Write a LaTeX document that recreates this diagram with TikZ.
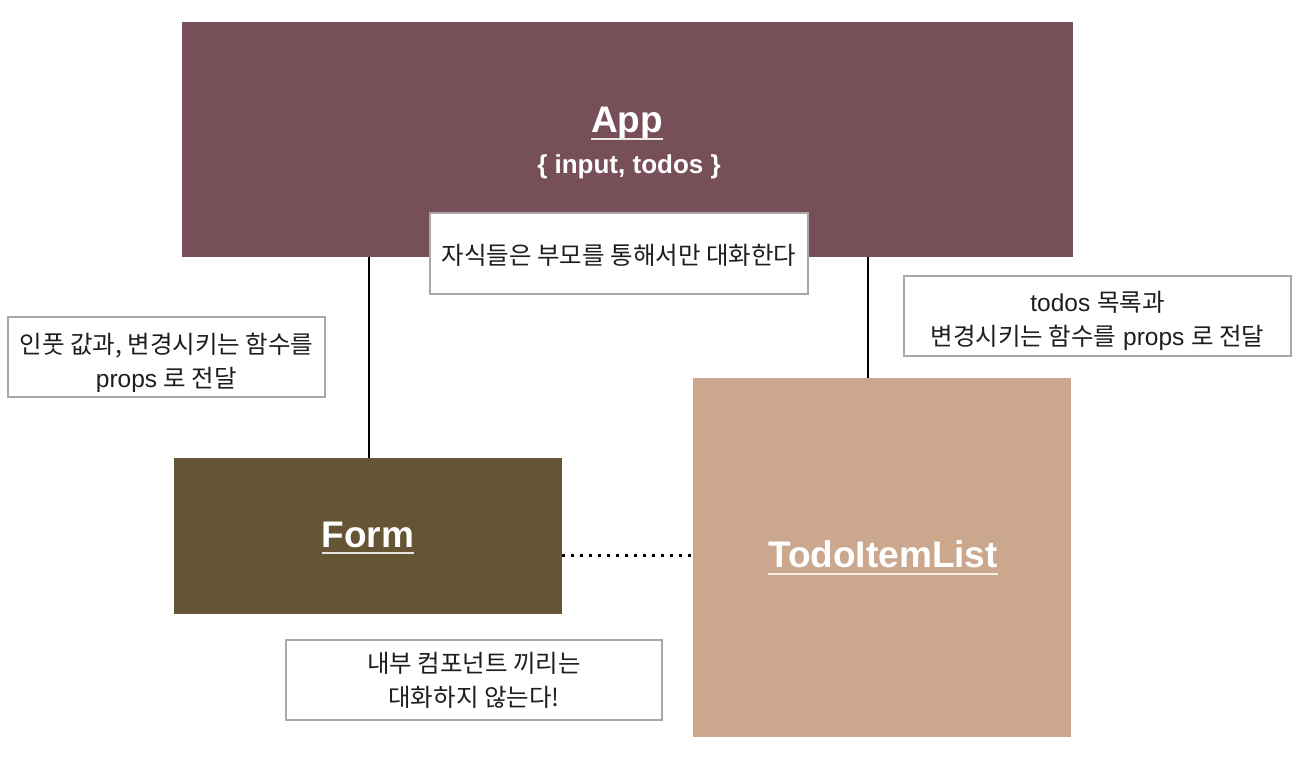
\documentclass[tikz,border=0pt]{standalone}
\usepackage{fontspec}
\setmainfont{Liberation Sans}
\newfontfamily\kr{Noto Sans CJK KR}
\definecolor{appc}{HTML}{774F59}
\definecolor{formc}{HTML}{665535}
\definecolor{todoc}{HTML}{CBA88D}
\definecolor{notec}{HTML}{A8A8A8}
\definecolor{txtc}{HTML}{1E1E1E}
\tikzset{
  comp/.style={draw=none, inner sep=0pt},
  title/.style={text=white, font=\fontsize{37}{42}\selectfont\bfseries, inner sep=0pt, anchor=base},
  notebox/.style={draw=notec, line width=1.5pt, fill=white, inner sep=0pt},
  notetext/.style={inner sep=0pt, align=center, text=txtc, font=\fontsize{24.5}{34}\selectfont},
  conn/.style={line width=2.5pt, black},
  dotconn/.style={line width=3pt, black, dash pattern=on 3pt off 6pt},
  uline/.style={line width=2pt}
}
\begin{document}
\begin{tikzpicture}[x=1pt, y=-1pt]
\useasboundingbox (0,0) rectangle (1312,758);
% components
\node[comp, fill=appc, minimum width=891pt, minimum height=235pt] (app) at (627.5,139.5) {};
\node[comp, fill=formc, minimum width=388pt, minimum height=156pt] (form) at (368,536) {};
\node[comp, fill=todoc, minimum width=378pt, minimum height=359pt] (todo) at (882,557.5) {};
% titles
\node[title] (apptitle) at (627,132) {App};
\node[text=white, font=\fontsize{26}{30}\selectfont\bfseries, anchor=base, inner sep=0pt] (appstate) at (629,173) {\{ input, todos \}};
\node[title] (formtitle) at (368,547) {Form};
\node[title] (todotitle) at (883,567) {TodoItemList};
\draw[uline, white!85!appc] ([yshift=-7pt]apptitle.base west) -- ([yshift=-7pt]apptitle.base east);
\draw[uline, white!85!formc] ([yshift=-6pt]formtitle.base west) -- ([yshift=-6pt]formtitle.base east);
\draw[uline, white!80!todoc] ([yshift=-7pt]todotitle.base west) -- ([yshift=-7pt]todotitle.base east);
% connectors
\draw[conn] (form.north -| 369,0) -- (app.south -| 369,0);
\draw[conn] (todo.north -| 868,0) -- (app.south -| 868,0);
\draw[dotconn] (form.east |- 0,555) -- (todo.west |- 0,555);
% notes
\node[notebox, minimum width=378pt, minimum height=81pt] (n1) at (619,253.5) {};
\node[notetext] (t1) at ([yshift=-2pt]n1.center) {\kr 자식들은 부모를 통해서만 대화한다};
\node[notebox, minimum width=317pt, minimum height=80pt] (n2) at (166.5,357) {};
\node[notetext] (t2) at ([yshift=-6pt]n2.center) {{\kr 인풋 값과, 변경시키는 함수를}\\props {\kr 로 전달}};
\node[notebox, minimum width=387pt, minimum height=80pt] (n3) at (1097.5,316) {};
\node[notetext] (t3) at ([yshift=-5pt]n3.center) {todos {\kr 목록과}\\{\kr 변경시키는 함수를} props {\kr 로 전달}};
\node[notebox, minimum width=376pt, minimum height=80pt] (n4) at (474,680) {};
\node[notetext] (t4) at (n4.center) {\kr 내부 컴포넌트 끼리는\\\kr 대화하지 않는다!};
\end{tikzpicture}
\end{document}
